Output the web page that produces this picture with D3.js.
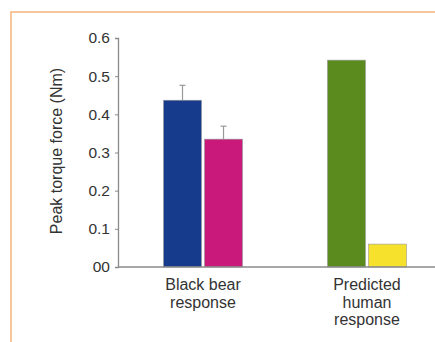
<!DOCTYPE html>
<html>
<head>
<meta charset="utf-8">
<script src="https://cdn.jsdelivr.net/npm/d3@7"></script>
<style>
  body { margin: 0; background: #fff; }
  svg { display: block; font-family: "Liberation Sans", Arial, sans-serif; }
</style>
</head>
<body>
<svg width="435" height="342"></svg>
<script>
// chart values
let groups = ["Black bear response", "Predicted human response"];
let groupLines = [["Black bear", "response"], ["Predicted", "human", "response"]];
let bearValues = [0.437, 0.335];
let bearErrors = [0.039, 0.034];
let humanValues = [0.542, 0.06];
let yTicks = [0, 0.1, 0.2, 0.3, 0.4, 0.5, 0.6];
let barColors = [["#163b8c", "#c91a7b"], ["#5b8b1f", "#f6e22c"]];

let dataset = [
  {group: groups[0], bars: bearValues.map((v, i) => ({key: "a" + i, value: v, err: bearErrors[i], color: barColors[0][i]}))},
  {group: groups[1], bars: humanValues.map((v, i) => ({key: "a" + i, value: v, err: 0, color: barColors[1][i]}))}
];

let svg = d3.select("svg");

// orange frame
svg.append("rect")
  .attr("x", 11).attr("y", 12)
  .attr("width", 440).attr("height", 350)
  .attr("fill", "none")
  .attr("stroke", "#f7b886")
  .attr("stroke-width", 1.6);

let x0 = d3.scaleBand().domain(groups).range([163.5, 406.5]).paddingInner(0.518).paddingOuter(0),
    x1 = d3.scaleBand().domain(["a0", "a1"]).range([0, x0.bandwidth()]).paddingInner(0.073),
    y = d3.scaleLinear().domain([0, 0.6]).range([267, 38]);

// bars
let g = svg.selectAll(".grp")
  .data(dataset)
  .enter().append("g")
  .attr("class", "grp")
  .attr("transform", d => "translate(" + x0(d.group) + ",0)");

g.selectAll("rect")
  .data(d => d.bars)
  .enter().append("rect")
  .attr("x", d => x1(d.key))
  .attr("y", d => y(d.value))
  .attr("width", x1.bandwidth())
  .attr("height", d => y(0) - y(d.value))
  .attr("fill", d => d.color)
  .attr("stroke", "#9a9a9a")
  .attr("stroke-width", 0.6);

// error bars
let eb = g.selectAll(".err")
  .data(d => d.bars.filter(b => b.err > 0))
  .enter().append("g")
  .attr("class", "err")
  .attr("stroke", "#999")
  .attr("stroke-width", 1.2);
eb.append("line")
  .attr("x1", d => x1(d.key) + x1.bandwidth() / 2)
  .attr("x2", d => x1(d.key) + x1.bandwidth() / 2)
  .attr("y1", d => y(d.value))
  .attr("y2", d => y(d.value + d.err));
eb.append("line")
  .attr("x1", d => x1(d.key) + x1.bandwidth() / 2 - 3)
  .attr("x2", d => x1(d.key) + x1.bandwidth() / 2 + 3)
  .attr("y1", d => y(d.value + d.err))
  .attr("y2", d => y(d.value + d.err));

// y axis
let yAxis = svg.append("g")
  .attr("transform", "translate(118,0)")
  .call(d3.axisLeft(y).tickValues(yTicks).tickSize(3).tickPadding(5)
    .tickFormat(d => d === 0 ? "00" : d3.format(".1f")(d)));
yAxis.select(".domain").attr("stroke", "#8a8a8a").attr("stroke-width", 1.3);
yAxis.selectAll(".tick line").attr("stroke", "#8a8a8a");
yAxis.selectAll(".tick text").attr("font-size", 15.5).attr("fill", "#333").attr("font-family", "Liberation Sans, Arial, sans-serif");

// x axis line
svg.append("line")
  .attr("x1", 118).attr("x2", 435)
  .attr("y1", y(0)).attr("y2", y(0))
  .attr("stroke", "#8a8a8a").attr("stroke-width", 1.3);

// category labels
svg.selectAll(".xlab")
  .data(groups)
  .enter().append("text")
  .attr("class", "xlab")
  .attr("text-anchor", "middle")
  .attr("font-size", 16)
  .attr("fill", "#333")
  .each(function(d, i) {
    let t = d3.select(this);
    groupLines[i].forEach((line, j) => {
      t.append("tspan")
        .attr("x", x0(d) + x0.bandwidth() / 2)
        .attr("y", 290 + j * 17.5)
        .text(line);
    });
  });

// y label
svg.append("text")
  .attr("transform", "translate(62,151) rotate(-90)")
  .attr("text-anchor", "middle")
  .attr("font-size", 16)
  .attr("fill", "#333")
  .text("Peak torque force (Nm)");
</script>
</body>
</html>
